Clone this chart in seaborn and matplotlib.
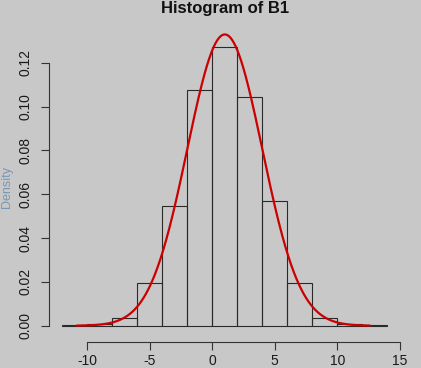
import numpy as np
import pandas as pd
import matplotlib
matplotlib.use("Agg")
import matplotlib.pyplot as plt
import seaborn as sns

# Figure / style constants
W_PX, H_PX = 421, 368
DPI = 100
BG_COLOR = "#c8c8c8"
BAR_EDGE = "#2a2a2a"
CURVE_COLOR = "#cc0000"
YLABEL_COLOR = "#7a96b4"

# Histogram data (density per bin of width 2)
BIN_EDGES = [-12, -10, -8, -6, -4, -2, 0, 2, 4, 6, 8, 10, 12, 14]
BIN_DENSITY = [0.0001, 0.0006, 0.0034, 0.0194, 0.0548, 0.1076, 0.1274,
               0.1043, 0.0568, 0.0194, 0.0034, 0.0006, 0.0001]

# Fitted normal curve drawn over the histogram
CURVE_MEAN = 1.0
CURVE_SD = 3.0
CURVE_RANGE = (-10.85, 12.6)

X_TICKS = [-10, -5, 0, 5, 10, 15]
Y_TICKS = [0.00, 0.02, 0.04, 0.06, 0.08, 0.10, 0.12]

sns.set_style("ticks", {"axes.facecolor": BG_COLOR, "figure.facecolor": BG_COLOR})
plt.rcParams['font.family'] = ['Liberation Sans', 'DejaVu Sans']

fig = plt.figure(figsize=(W_PX / DPI, H_PX / DPI), dpi=DPI)
fig.patch.set_facecolor(BG_COLOR)

# plot region in pixels (left edge = y axis, bottom edge = x axis)
left, right, bottom = 49.3, 400.3, 341.7
ax = fig.add_axes([left / W_PX, (H_PX - bottom) / H_PX,
                   (right - left) / W_PX, bottom / H_PX])
ax.set_facecolor(BG_COLOR)

centers = [(a + b) / 2 for a, b in zip(BIN_EDGES[:-1], BIN_EDGES[1:])]
df = pd.DataFrame({"B1": centers, "density": BIN_DENSITY})
sns.histplot(data=df, x="B1", weights="density", bins=BIN_EDGES, stat="count",
             fill=False, color=BAR_EDGE, linewidth=0.8, ax=ax)

xs = np.linspace(CURVE_RANGE[0], CURVE_RANGE[1], 400)
ys = np.exp(-0.5 * ((xs - CURVE_MEAN) / CURVE_SD) ** 2) / (CURVE_SD * np.sqrt(2 * np.pi))
sns.lineplot(x=xs, y=ys, color=CURVE_COLOR, linewidth=1.6, ax=ax)

ax.set_xlim(-13.04, 15.04)
ax.set_ylim(-0.0073, 0.1487)
ax.set_xticks(X_TICKS)
ax.set_yticks(Y_TICKS)
ax.set_xticklabels([str(t) for t in X_TICKS])
ax.set_yticklabels([f"{t:.2f}" for t in Y_TICKS], rotation=90, va="center")
ax.tick_params(axis="both", direction="out", length=6, width=0.8,
               color="#333333", labelsize=10, labelcolor="#1a1a1a")
ax.tick_params(axis="x", pad=2.5)
ax.tick_params(axis="y", pad=6)

ax.spines['top'].set_visible(False)
ax.spines['right'].set_visible(False)
for s in ("left", "bottom"):
    ax.spines[s].set_color("#333333")
    ax.spines[s].set_linewidth(0.8)
ax.spines['bottom'].set_bounds(X_TICKS[0], X_TICKS[-1])
ax.spines['left'].set_bounds(Y_TICKS[0], Y_TICKS[-1])
ax.set_xlabel("")
ax.set_ylabel("")

# title and y label hug the picture edges, as in the cropped reference
fig.text((212.3 + 12.5 * 1.0) / W_PX, (H_PX - 13) / H_PX, "Histogram of B1",
         ha="center", va="baseline", fontsize=12, fontweight="bold", color="#111111")
fig.text(1 / W_PX, (H_PX - 187) / H_PX, "Density", rotation=90,
         ha="left", va="center", fontsize=9, color=YLABEL_COLOR)

fig.savefig("out.png", dpi=DPI, facecolor=BG_COLOR)
plt.close(fig)
